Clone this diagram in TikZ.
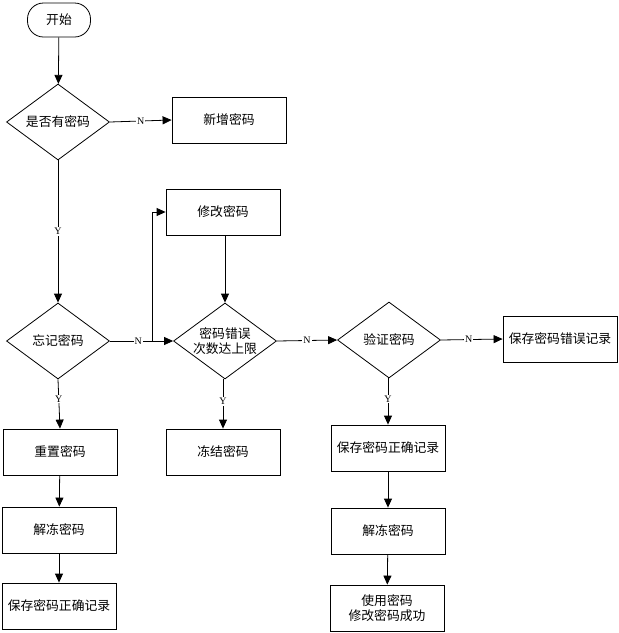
\documentclass[tikz,border=0pt]{standalone}
\usepackage{fontspec}
\newfontfamily\cjk{Noto Sans CJK SC}
\setmainfont{Liberation Serif}
\usetikzlibrary{shapes.geometric,arrows.meta}
\begin{document}
\begin{tikzpicture}[x=1pt,y=-1pt,
  every node/.style={font=\cjk\fontsize{12.8}{15}\selectfont},
  box/.style={draw,line width=0.8pt,minimum width=114pt,minimum height=46pt,inner sep=1pt,align=center},
  dia/.style={draw,line width=0.8pt,diamond,minimum width=103pt,minimum height=76pt,inner sep=0pt,align=center},
  term/.style={draw,line width=0.8pt,rounded corners=16pt,minimum width=63pt,minimum height=34pt,inner sep=0pt},
  arr/.style={line width=0.8pt,-{Triangle[length=9pt,width=8pt]}},
  lab/.style={fill=white,inner sep=1pt,font=\rmfamily\fontsize{10}{12}\selectfont}]
\useasboundingbox (0,0) rectangle (619,633);
\node[term] (start) at (59,20) {开始};
\node[dia] (d1) at (58,122) {是否有密码};
\node[box] (add) at (229,120) {新增密码};
\node[dia] (d2) at (58,341) {忘记密码};
\node[box] (reset) at (60,452) {重置密码};
\node[box] (unf1) at (59,530) {解冻密码};
\node[box] (ok1) at (59,606) {保存密码正确记录};
\node[box] (edit) at (223,212) {修改密码};
\node[dia,inner sep=-9pt] (d3) at (225,341) {密码错误\\次数达上限};
\node[box] (freeze) at (223,452) {冻结密码};
\node[dia] (d4) at (389,340) {验证密码};
\node[box] (err) at (560,339) {保存密码错误记录};
\node[box] (ok2) at (388,448) {保存密码正确记录};
\node[box] (unf2) at (388,531) {解冻密码};
\node[box] (use) at (387,608) {使用密码\\修改密码成功};
\coordinate (br) at (152,341);
\draw[arr] (start) -- (d1);
\draw[arr] (d1.east) -- node[lab]{N} (add.west);
\draw[arr] (d1.south) -- node[lab]{Y} (d2.north);
\draw[arr] (d2.south) -- node[lab,pos=0.4]{Y} (reset.north);
\draw[arr] (reset) -- (unf1);
\draw[arr] (unf1) -- (ok1);
\draw[arr] (d2.east) -- node[lab,pos=0.45]{N} (d3.west);
\draw[arr] (br) |- (edit.west);
\draw[arr] (edit.south -| d3.north) -- (d3.north);
\draw[arr] (d3.south -| freeze.north) -- node[lab,pos=0.45]{Y} (freeze.north);
\draw[arr] (d3.east) -- node[lab]{N} (d4.west);
\draw[arr] (d4.east) -- node[lab,pos=0.45]{N} (err.west);
\draw[arr] (d4.south -| ok2.north) -- node[lab,pos=0.45]{Y} (ok2.north);
\draw[arr] (ok2) -- (unf2);
\draw[arr] (unf2) -- (use);
\end{tikzpicture}
\end{document}
